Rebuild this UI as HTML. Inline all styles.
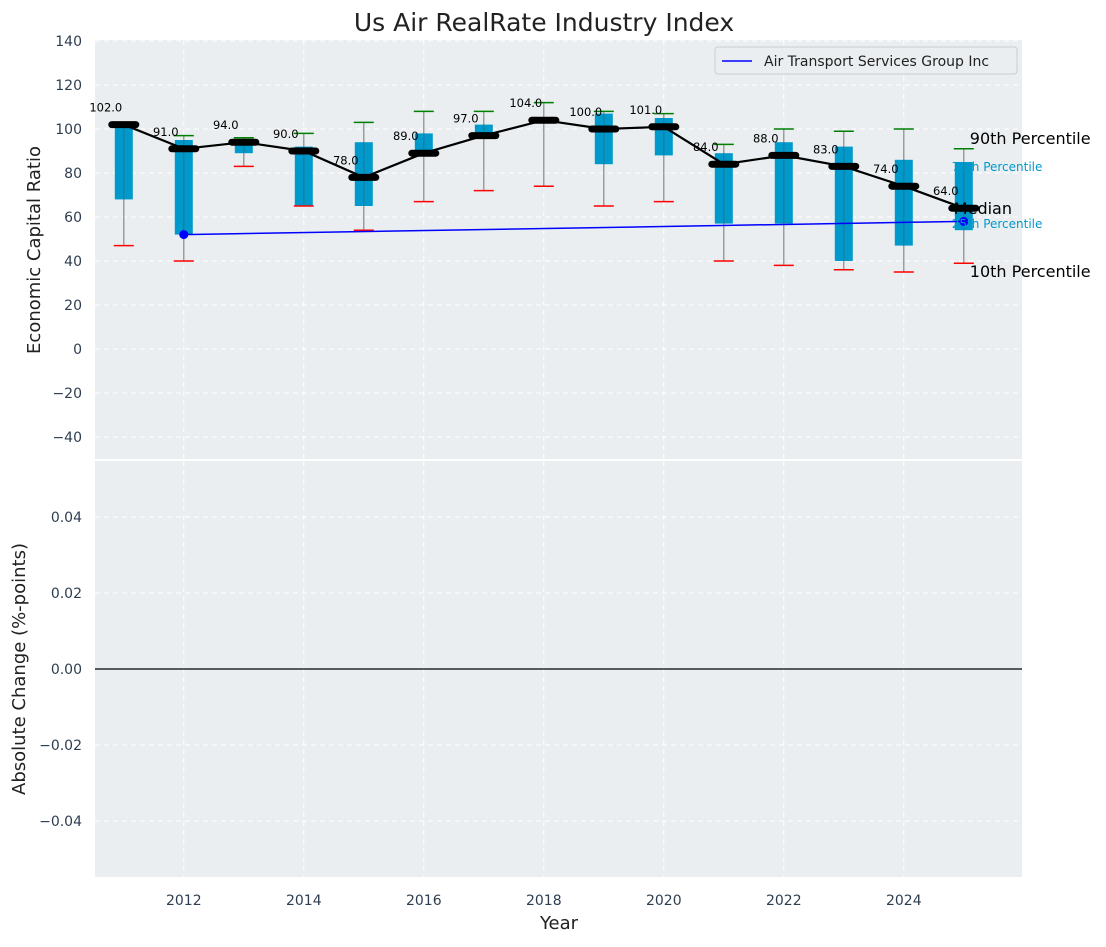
<!DOCTYPE html>
<html><head><meta charset="utf-8"><style>
body{margin:0;background:#fff;font-family:"Liberation Sans","DejaVu Sans",sans-serif}
svg text{font-family:"DejaVu Sans","Liberation Sans",sans-serif}
</style></head><body>
<svg id="c" width="1106" height="942" xmlns="http://www.w3.org/2000/svg"></svg>
<script>
const years=[2011,2012,2013,2014,2015,2016,2017,2018,2019,2020,2021,2022,2023,2024,2025];
const medians=[102,91,94,90,78,89,97,104,100,101,84,88,83,74,64];
const q1=[68,52,89,65,65,89,97,104,84,88,57,57,40,47,54];
const q3=[101,95,94,92,94,98,102,104,107,105,89,94,92,86,85];
const p10=[47,40,83,65,54,67,72,74,65,67,40,38,36,35,39];
const p90=[102,97,96,98,103,108,108,112,108,107,93,100,99,100,91];
const compYears=[2012,2025];
const compVals=[52,58];
const yTicksTop=[-40,-20,0,20,40,60,80,100,120,140];
const yTicksBot=[-0.04,-0.02,0,0.02,0.04];
const xTicks=[2012,2014,2016,2018,2020,2022,2024];

const X0=95,X1=1022;
const xs=v=>X0+(v-2010.52)/(2025.97-2010.52)*(X1-X0);
const yT=v=>349-v*2.2;
const yB=v=>669-v*3800;
const svg=document.getElementById('c');
const NS='http://www.w3.org/2000/svg';
function mk(t,a,p){const e=document.createElementNS(NS,t);for(const k in a)e.setAttribute(k,a[k]);(p||svg).appendChild(e);return e;}
function tx(s,a,p){const e=mk('text',a,p);e.textContent=s;return e;}

let e;
e=mk('rect',{x:X0,y:40,width:X1-X0,height:419,fill:'#eaeef0'});


e=mk('rect',{x:X0,y:461,width:X1-X0,height:416,fill:'#eaeef0'});



xTicks.forEach(v=>{
  mk('line',{x1:xs(v),x2:xs(v),y1:40,y2:459,stroke:'#fff','stroke-dasharray':'5,4','stroke-width':1});
  mk('line',{x1:xs(v),x2:xs(v),y1:461,y2:877,stroke:'#fff','stroke-dasharray':'5,4','stroke-width':1});
  e=tx(v,{x:xs(v),y:905,'font-size':14,fill:'#2e3e50','text-anchor':'middle'});
  
  
});
yTicksTop.forEach(v=>{
  mk('line',{x1:X0,x2:X1,y1:yT(v),y2:yT(v),stroke:'#fff','stroke-dasharray':'5,4','stroke-width':1});
  e=tx(v<0?'\u2212'+(-v):v,{x:82,y:yT(v)+5,'font-size':14,fill:'#2e3e50','text-anchor':'end'});
  
  
});
yTicksBot.forEach(v=>{
  mk('line',{x1:X0,x2:X1,y1:yB(v),y2:yB(v),stroke:'#fff','stroke-dasharray':'5,4','stroke-width':1});
  const s=(v<0?'\u2212':'')+Math.abs(v).toFixed(2);
  e=tx(s,{x:82,y:yB(v)+5,'font-size':14,fill:'#2e3e50','text-anchor':'end'});
  
  
});
e=mk('line',{x1:X0,x2:X1,y1:yB(0),y2:yB(0),stroke:'#000','stroke-width':1.2});



years.forEach((yr,i)=>{
  const x=xs(yr);
  e=mk('line',{x1:x,x2:x,y1:yT(p90[i]),y2:yT(p10[i]),stroke:'#888','stroke-width':1.2});
  
  
  e=mk('rect',{x:x-9,y:yT(q3[i]),width:18,height:Math.max(1,yT(q1[i])-yT(q3[i])),fill:'#0099cc'});
  
  
  mk('line',{x1:x,x2:x,y1:yT(q3[i]),y2:yT(q1[i]),stroke:'#555','stroke-width':1,opacity:0.6});
  e=mk('line',{x1:x-10,x2:x+10,y1:yT(p10[i]),y2:yT(p10[i]),stroke:'#f00','stroke-width':1.5});
  
  
  e=mk('line',{x1:x-10,x2:x+10,y1:yT(p90[i]),y2:yT(p90[i]),stroke:'#008000','stroke-width':1.5});
  
  
});
e=mk('polyline',{points:compYears.map((y,i)=>xs(y)+','+yT(compVals[i])).join(' '),fill:'none',stroke:'#0000ff','stroke-width':1.5});


compYears.forEach((y,i)=>{
  e=mk('circle',{cx:xs(y),cy:yT(compVals[i]),r:4.5,fill:'#0000ff'});
  
  
});
e=mk('polyline',{points:years.map((y,i)=>xs(y)+','+yT(medians[i])).join(' '),fill:'none',stroke:'#000','stroke-width':2.2});


years.forEach((yr,i)=>{
  const x=xs(yr);
  e=mk('line',{x1:x-12,x2:x+12,y1:yT(medians[i]),y2:yT(medians[i]),stroke:'#000','stroke-width':7,'stroke-linecap':'round'});
  
  
  e=tx(medians[i].toFixed(1),{x:x-18,y:yT(medians[i])-13,'font-size':11.5,fill:'#000','text-anchor':'middle'});
  
  
});
const last=years.length-1, lx=xs(years[last]);
e=tx('90th Percentile',{x:lx+6,y:yT(p90[last])-5,'font-size':16,fill:'#000'});

e=tx('75th Percentile',{x:lx-12,y:yT(q3[last])+9,'font-size':12,fill:'#0099cc'});

e=tx('Median',{x:lx-10,y:yT(medians[last])+6,'font-size':16,fill:'#000'});

e=tx('25th Percentile',{x:lx-12,y:yT(q1[last])-2,'font-size':12,fill:'#0099cc'});

e=tx('10th Percentile',{x:lx+6,y:yT(p10[last])+14,'font-size':16,fill:'#000'});


const lg=mk('g',{});


mk('rect',{x:715,y:47,width:302,height:27,rx:3,fill:'#eaeef0',stroke:'#ccc'},lg);
mk('line',{x1:722,x2:752,y1:61,y2:61,stroke:'#0000ff','stroke-width':1.5},lg);
tx('Air Transport Services Group Inc',{x:764,y:66,'font-size':14,fill:'#222'},lg);

e=tx('Us Air RealRate Industry Index',{x:544,y:31,'font-size':25,fill:'#222','text-anchor':'middle'});

e=tx('Year',{x:559,y:929,'font-size':18,fill:'#222','text-anchor':'middle'});

e=tx('Economic Capital Ratio',{x:0,y:0,'font-size':18,fill:'#222','text-anchor':'middle',transform:'translate(40,250) rotate(-90)'});

e=tx('Absolute Change (%-points)',{x:0,y:0,'font-size':18,fill:'#222','text-anchor':'middle',transform:'translate(25,669) rotate(-90)'});

</script>
</body></html>
